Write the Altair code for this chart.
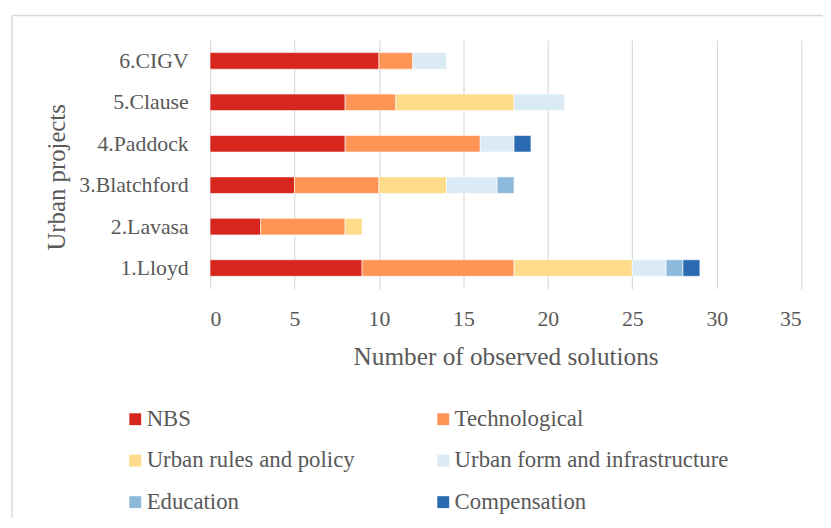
import altair as alt
import pandas as pd

projects = ["1.Lloyd", "2.Lavasa", "3.Blatchford", "4.Paddock", "5.Clause", "6.CIGV"]
categories = ["NBS", "Technological", "Urban rules and policy",
              "Urban form and infrastructure", "Education", "Compensation"]
nbs = [9, 3, 5, 8, 8, 10]
technological = [9, 5, 5, 8, 3, 2]
rules = [7, 1, 4, 0, 7, 0]
form = [2, 0, 3, 2, 3, 2]
education = [1, 0, 1, 0, 0, 0]
compensation = [1, 0, 0, 1, 0, 0]
colors = ["#d6261e", "#fe9455", "#ffdb8c", "#dbebf6", "#8db9db", "#2b69b1"]
x_ticks = [0, 5, 10, 15, 20, 25, 30, 35]

series = [nbs, technological, rules, form, education, compensation]
rows = []
for ci, (cat, vals) in enumerate(zip(categories, series)):
    for p, v in zip(projects, vals):
        if v > 0:
            rows.append({"project": p, "category": cat, "value": v, "order": ci})
df = pd.DataFrame(rows)

FONT = "Liberation Serif"
TXT = "#595959"

bars = alt.Chart(df).mark_bar(stroke="white", strokeWidth=0.6).encode(
    x=alt.X("value:Q", stack="zero",
            scale=alt.Scale(domain=[0, 35], nice=False),
            axis=alt.Axis(values=x_ticks, title="Number of observed solutions",
                          grid=True, gridColor="#d9d9d9", gridWidth=1.2,
                          domain=False, ticks=False, labelPadding=20,
                          labelFontSize=22, labelFont=FONT, labelColor=TXT,
                          titleFontSize=25.5, titleFont=FONT, titleColor=TXT,
                          titleFontWeight="normal", titleY=68,
                          titleBaseline="middle")),
    y=alt.Y("project:N", sort=list(reversed(projects)),
            scale=alt.Scale(paddingInner=0.6, paddingOuter=0.3),
            axis=alt.Axis(title="Urban projects", grid=False, domain=False,
                          ticks=False, labelPadding=22,
                          labelFontSize=22, labelFont=FONT, labelColor=TXT,
                          titleFontSize=25, titleFont=FONT, titleColor=TXT,
                          titleFontWeight="normal", titleX=-155, titleY=138,
                          titleAngle=270, titleAlign="center",
                          titleBaseline="middle")),
    color=alt.Color("category:N",
                    scale=alt.Scale(domain=categories, range=colors),
                    legend=alt.Legend(title=None, orient="none",
                                      direction="horizontal",
                                      legendX=-87, legendY=371,
                                      columns=2, columnPadding=77,
                                      rowPadding=18, symbolType="square",
                                      symbolSize=144, symbolStrokeWidth=0,
                                      labelOffset=0, labelFontSize=23,
                                      labelLimit=500,
                                      labelFont=FONT, labelColor=TXT)),
    order=alt.Order("order:Q", sort="ascending"),
)

frame_df = pd.DataFrame({"a": [0]})
top_line = alt.Chart(frame_df).mark_rule(color="#d9d9d9", strokeWidth=1.5).encode(
    x=alt.value(-200), x2=alt.value(700), y=alt.value(-25)
)
left_line = alt.Chart(frame_df).mark_rule(color="#d9d9d9", strokeWidth=1.5).encode(
    x=alt.value(-200), y=alt.value(-25), y2=alt.value(520)
)

chart = alt.layer(top_line, left_line, bars).properties(
    width=597, height=251,
    autosize=alt.AutoSizeParams(type="none"),
    padding={"left": 204, "top": 30, "right": 22, "bottom": 229},
).configure_view(stroke=None).configure_legend(
    labelFont=FONT, labelFontSize=23, labelColor=TXT
)

chart.save("out.html", embed_options={"renderer": "svg", "actions": False})
